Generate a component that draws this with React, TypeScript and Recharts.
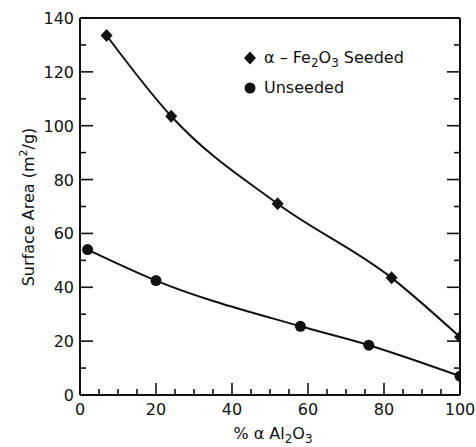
import React from 'react';
import { LineChart, Line, XAxis, YAxis } from 'recharts';

// % alpha-Al2O3 vs surface area (m2/g)
const seededX = [7, 24, 52, 82, 100];
const seededY = [133.5, 103.5, 71, 43.5, 21.5];
const unseededX = [2, 20, 58, 76, 100];
const unseededY = [54, 42.5, 25.5, 18.5, 7];

const xTicks = [0, 5, 10, 15, 20, 25, 30, 35, 40, 45, 50, 55, 60, 65, 70, 75, 80, 85, 90, 95, 100];
const yTicks = [0, 10, 20, 30, 40, 50, 60, 70, 80, 90, 100, 110, 120, 130, 140];

const seeded = seededX.map((x, i) => ({ x, y: seededY[i] }));
const unseeded = unseededX.map((x, i) => ({ x, y: unseededY[i] }));

const FONT = '"DejaVu Sans", sans-serif';
const INK = '#111';

const isMajor = (v: number) => v % 20 === 0;

const BottomTick = ({ x, y, payload }: any) => (
  <g>
    <line x1={x} x2={x} y1={y} y2={y - (isMajor(payload.value) ? 12 : 6)} stroke={INK} strokeWidth={1.6} />
    {isMajor(payload.value) && (
      <text x={x} y={y + 20} textAnchor="middle" fontSize={16} fontFamily={FONT} fill={INK}>
        {payload.value}
      </text>
    )}
  </g>
);

const TopTick = ({ x, y, payload }: any) => (
  <line x1={x} x2={x} y1={y} y2={y + (isMajor(payload.value) ? 12 : 6)} stroke={INK} strokeWidth={1.6} />
);

const LeftTick = ({ x, y, payload }: any) => (
  <g>
    <line x1={x} x2={x + (isMajor(payload.value) ? 13 : 6)} y1={y} y2={y} stroke={INK} strokeWidth={1.6} />
    {isMajor(payload.value) && (
      <text x={x - 6} y={y + 6} textAnchor="end" fontSize={16} fontFamily={FONT} fill={INK}>
        {payload.value}
      </text>
    )}
  </g>
);

const RightTick = ({ x, y, payload }: any) => (
  <line x1={x} x2={x - (isMajor(payload.value) ? 13 : 6)} y1={y} y2={y} stroke={INK} strokeWidth={1.6} />
);

const Diamond = ({ cx, cy }: any) => {
  if (cx == null || cy == null) return null;
  return <path d={`M${cx},${cy - 6.5} L${cx + 6},${cy} L${cx},${cy + 6.5} L${cx - 6},${cy} Z`} fill={INK} />;
};

const Dot = ({ cx, cy }: any) => {
  if (cx == null || cy == null) return null;
  return <circle cx={cx} cy={cy} r={5.5} fill={INK} />;
};

const LegendBox = () => (
  <div style={{ fontFamily: FONT, fontSize: 16, color: INK, lineHeight: '30px' }}>
    <div style={{ display: 'flex', alignItems: 'center' }}>
      <svg width={18} height={16}>
        <path d="M8,1.5 L14,8 L8,14.5 L2,8 Z" fill={INK} />
      </svg>
      <span style={{ marginLeft: 4 }}>
        α – Fe<sub style={{ fontSize: 12, lineHeight: 0 }}>2</sub>O<sub style={{ fontSize: 12, lineHeight: 0 }}>3</sub> Seeded
      </span>
    </div>
    <div style={{ display: 'flex', alignItems: 'center' }}>
      <svg width={18} height={16}>
        <circle cx={8} cy={8} r={5.5} fill={INK} />
      </svg>
      <span style={{ marginLeft: 4 }}>Unseeded</span>
    </div>
  </div>
);

export default function App() {
  return (
    <div style={{ position: 'absolute', left: 0, top: 0, width: 476, height: 447, background: '#fff' }}>
      <LineChart width={476} height={447} margin={{ top: 17, right: 15, bottom: 12, left: 20 }}>
        <XAxis
          dataKey="x"
          type="number"
          domain={[0, 100]}
          ticks={xTicks}
          interval={0}
          height={40}
          tickSize={0}
          tickMargin={0}
          tickLine={false}
          axisLine={{ stroke: INK, strokeWidth: 2 }}
          tick={<BottomTick />}
          allowDataOverflow
        />
        <XAxis
          xAxisId="top"
          orientation="top"
          type="number"
          domain={[0, 100]}
          ticks={xTicks}
          interval={0}
          height={1}
          tickSize={0}
          tickMargin={0}
          tickLine={false}
          axisLine={{ stroke: INK, strokeWidth: 2 }}
          tick={<TopTick />}
          allowDataOverflow
        />
        <YAxis
          type="number"
          domain={[0, 140]}
          ticks={yTicks}
          interval={0}
          width={60}
          tickSize={0}
          tickMargin={0}
          tickLine={false}
          axisLine={{ stroke: INK, strokeWidth: 2 }}
          tick={<LeftTick />}
          allowDataOverflow
        />
        <YAxis
          yAxisId="right"
          orientation="right"
          type="number"
          domain={[0, 140]}
          ticks={yTicks}
          interval={0}
          width={1}
          tickSize={0}
          tickMargin={0}
          tickLine={false}
          axisLine={{ stroke: INK, strokeWidth: 2 }}
          tick={<RightTick />}
          allowDataOverflow
        />
        <Line
          data={seeded}
          dataKey="y"
          type="monotone"
          stroke={INK}
          strokeWidth={2}
          dot={<Diamond />}
          activeDot={false}
          isAnimationActive={false}
        />
        <Line
          data={unseeded}
          dataKey="y"
          type="monotone"
          stroke={INK}
          strokeWidth={2}
          dot={<Dot />}
          activeDot={false}
          isAnimationActive={false}
        />
      </LineChart>
      <div style={{ position: 'absolute', left: 242, top: 43 }}>
        <LegendBox />
      </div>
      <div
        style={{
          position: 'absolute',
          left: 28,
          top: 207,
          transform: 'translate(-50%, -50%) rotate(-90deg)',
          whiteSpace: 'nowrap',
          fontFamily: FONT,
          fontSize: 16,
          color: INK,
        }}
      >
        Surface Area (m<sup style={{ fontSize: 11, lineHeight: 0 }}>2</sup>/g)
      </div>
      <div
        style={{
          position: 'absolute',
          left: 273,
          top: 433,
          transform: 'translate(-50%, -50%)',
          whiteSpace: 'nowrap',
          fontFamily: FONT,
          fontSize: 16,
          color: INK,
        }}
      >
        % α Al<sub style={{ fontSize: 12, lineHeight: 0 }}>2</sub>O<sub style={{ fontSize: 12, lineHeight: 0 }}>3</sub>
      </div>
    </div>
  );
}
